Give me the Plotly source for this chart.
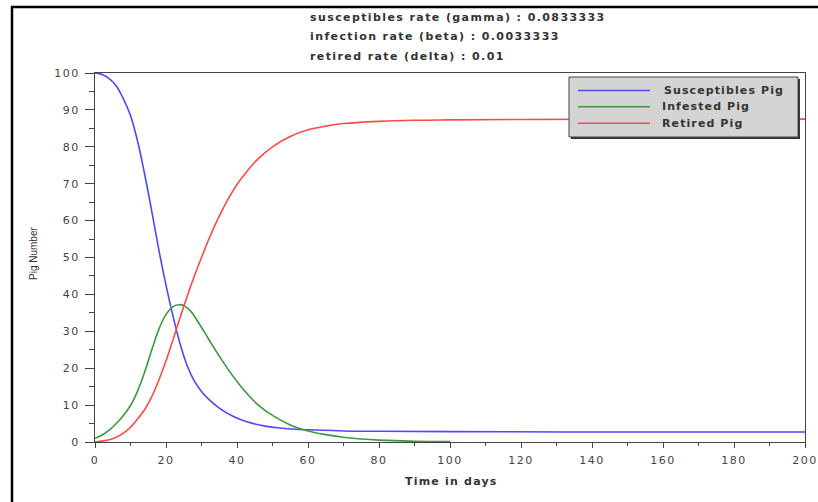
import plotly.graph_objects as go

# ---- data ----
blue_days = [0, 2, 4, 6, 8, 10, 12, 14, 16, 18, 20, 22, 24, 26, 28, 30, 32, 35, 39, 43, 48, 52, 60, 70, 80, 100, 150, 200]
blue_vals = [100, 99.6, 98.5, 96.5, 93, 88.5, 81.5, 72.5, 62.5, 52, 42.5, 34, 26.5, 20.6, 16.5, 13.7, 11.6, 9.2, 6.9, 5.4, 4.3, 3.8, 3.3, 3.0, 2.9, 2.8, 2.7, 2.7]

green_days = [0, 2, 4, 6, 8, 10, 12, 14, 16, 18, 20, 22, 23.5, 25, 27, 29, 31, 33, 35, 38, 42, 46, 50, 55, 60, 65, 70, 75, 80, 90, 100]
green_vals = [1.0, 1.9, 3.2, 5.0, 7.2, 9.9, 13.8, 19.0, 25.0, 30.6, 34.6, 36.7, 37.2, 37.0, 35.4, 32.6, 29.5, 26.3, 23.3, 19.0, 14.0, 10.0, 7.2, 4.6, 3.0, 2.0, 1.3, 0.8, 0.5, 0.2, 0.1]

red_days = [0, 4, 6, 8, 10, 12, 14, 16, 18, 20, 22, 24, 26, 28, 30, 32, 34, 36, 38, 40, 43, 46, 50, 55, 60, 65, 70, 80, 90, 100, 120, 150, 200]
red_vals = [0, 0.6, 1.3, 2.4, 4.0, 6.2, 8.8, 12.3, 16.8, 22.0, 27.8, 33.8, 39.6, 45.0, 50.0, 54.8, 59.2, 63.1, 66.7, 69.8, 73.6, 76.8, 80.0, 82.8, 84.6, 85.6, 86.3, 86.9, 87.2, 87.3, 87.4, 87.5, 87.5]

series_names = ["Susceptibles Pig", "Infested Pig", "Retired Pig"]
series_colors = ["#4a4aff", "#3c9a3c", "#ff4a4a"]
info_lines = ["susceptibles rate (gamma) : 0.0833333",
              "infection rate (beta) : 0.0033333",
              "retired rate (delta) : 0.01"]
x_ticks = [0, 20, 40, 60, 80, 100, 120, 140, 160, 180, 200]
y_ticks = [0, 10, 20, 30, 40, 50, 60, 70, 80, 90, 100]
x_title = "Time in days"
y_title = "Pig Number"

# ---- layout geometry (pixels) ----
W, H = 818, 502
L, R, T, B = 95, 805, 73, 442


def px(x):
    return (x - L) / (R - L)


def py(y):
    return (B - y) / (B - T)


def spaced(s, sp):
    return '<span style="letter-spacing:%.1fpx">%s</span>' % (sp, s)


fig = go.Figure()
for d, v, n, c in zip([blue_days, green_days, red_days],
                      [blue_vals, green_vals, red_vals],
                      series_names, series_colors):
    fig.add_trace(go.Scatter(x=d, y=v, name=n, mode="lines",
                             line=dict(color=c, width=1.6, shape="spline", smoothing=1.0),
                             showlegend=False))

axis_common = dict(showline=True, linecolor="#444", linewidth=1, mirror=True, automargin=False,
                   showgrid=False, zeroline=False, ticks="outside", tickcolor="#444",
                   tickfont=dict(family="DejaVu Sans", size=11, color="#444"))

fig.update_xaxes(range=[0, 200], tickvals=x_ticks, ticktext=[spaced(str(t), 1.5) for t in x_ticks],
                 ticklen=5, tickwidth=1, ticklabelstandoff=3,
                 minor=dict(dtick=10, ticklen=3, ticks="outside", tickcolor="#444", showgrid=False),
                 **axis_common)
fig.update_yaxes(range=[0, 100], tickvals=y_ticks, ticktext=[spaced(str(t), 1.5) for t in y_ticks],
                 ticklen=9, tickwidth=1, ticklabelstandoff=3,
                 minor=dict(dtick=5, ticklen=5, ticks="outside", tickcolor="#444", showgrid=False),
                 **axis_common)

shapes = []
# outer frame lines
shapes.append(dict(type="line", xref="paper", yref="paper", x0=px(12), x1=px(12), y0=py(6), y1=py(502),
                   line=dict(color="black", width=2.5)))
shapes.append(dict(type="line", xref="paper", yref="paper", x0=px(11), x1=px(818), y0=py(7), y1=py(7),
                   line=dict(color="black", width=2.5)))
# legend box with shadow
lx0, lx1, ly0, ly1 = 569, 798, 77, 137
shapes.append(dict(type="rect", xref="paper", yref="paper", x0=px(lx0 + 2), x1=px(lx1 + 2), y0=py(ly0 + 2), y1=py(ly1 + 2),
                   fillcolor="#333", line=dict(width=0), layer="above"))
shapes.append(dict(type="rect", xref="paper", yref="paper", x0=px(lx0), x1=px(lx1), y0=py(ly0), y1=py(ly1),
                   fillcolor="#d4d4d4", line=dict(color="#444", width=1), layer="above"))
row_y = [90.5, 106.7, 123.3]
annotations = []
for yy, n, c, tx in zip(row_y, series_names, series_colors, [662, 660, 660]):
    shapes.append(dict(type="line", xref="paper", yref="paper", x0=px(578), x1=px(650), y0=py(yy), y1=py(yy),
                       line=dict(color=c, width=1.6), layer="above"))
    annotations.append(dict(xref="paper", yref="paper", x=px(tx), y=py(yy), xanchor="left", yanchor="middle",
                            text="<b>" + spaced(n, 1.1) + "</b>", showarrow=False,
                            font=dict(family="DejaVu Sans", size=11, color="#333")))

for yy, t in zip([18, 37, 56], info_lines):
    annotations.append(dict(xref="paper", yref="paper", x=px(308), y=py(yy), xanchor="left", yanchor="middle",
                            text="<b>" + spaced(t, 1.4) + "</b>", showarrow=False,
                            font=dict(family="DejaVu Sans", size=11, color="#333")))

annotations.append(dict(xref="paper", yref="paper", x=px(451), y=py(481), xanchor="center", yanchor="middle",
                        text="<b>" + spaced(x_title, 1.2) + "</b>", showarrow=False,
                        font=dict(family="DejaVu Sans", size=11, color="#333")))
annotations.append(dict(xref="paper", yref="paper", x=px(33), y=py(254), xanchor="center", yanchor="middle",
                        text=y_title, textangle=-90, showarrow=False,
                        font=dict(family="Liberation Sans Narrow, Liberation Sans", size=10, color="#333")))

fig.update_layout(width=W, height=H, autosize=False, margin=dict(l=L, r=W - R, t=T, b=H - B, pad=0, autoexpand=False),
                  paper_bgcolor="white", plot_bgcolor="white",
                  shapes=shapes, annotations=annotations, showlegend=False)

fig.write_html("out.html", config={"responsive": False})
